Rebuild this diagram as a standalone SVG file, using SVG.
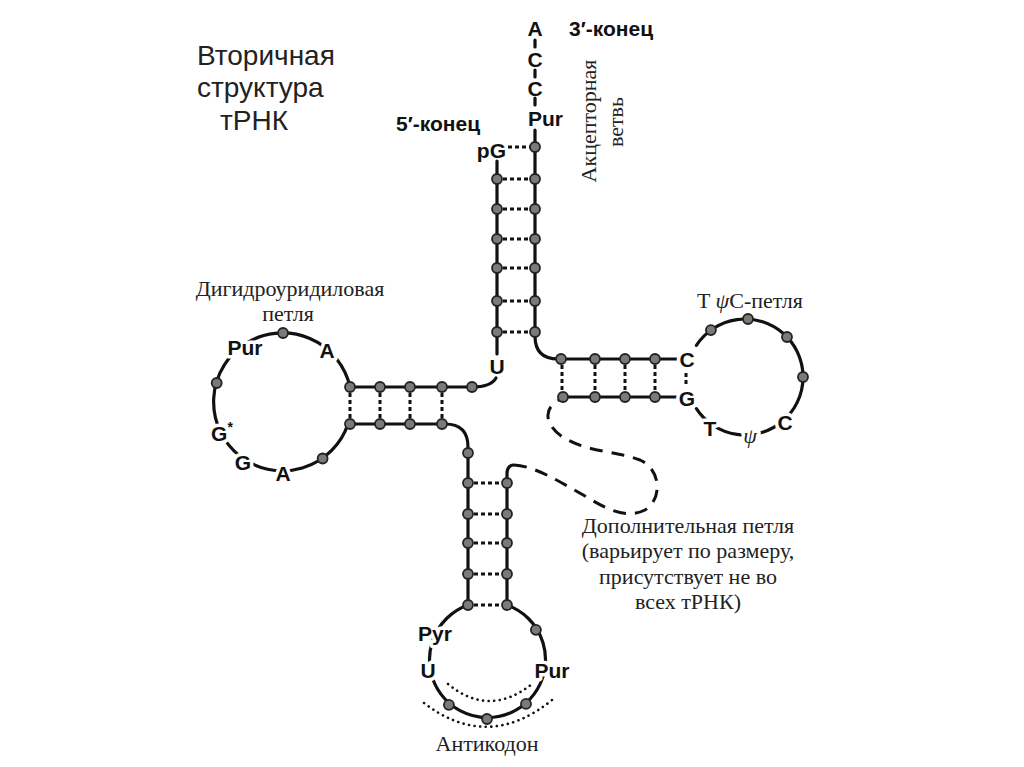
<svg xmlns="http://www.w3.org/2000/svg" width="1024" height="767" viewBox="0 0 1024 767">
<style>
.bb{fill:none;stroke:#111;stroke-width:3.2;stroke-linecap:round}
.pair{fill:none;stroke:#111;stroke-width:3;stroke-dasharray:4 3}
.dash{fill:none;stroke:#111;stroke-width:3;stroke-dasharray:13 9}
.dotarc{fill:none;stroke:#111;stroke-width:2.6;stroke-dasharray:0.1 5.5;stroke-linecap:round}
.nt{fill:#7a7a7a;stroke:#222;stroke-width:1.8}
.lab{font-family:"Liberation Sans",Arial,sans-serif;font-weight:bold;font-size:21px;fill:#111;text-anchor:middle;dominant-baseline:central}
.halo{stroke:#fff;stroke-width:7;paint-order:stroke;stroke-linejoin:round}
.ser{font-family:"Liberation Serif","Times New Roman",serif;font-size:22px;fill:#222}
.title{font-family:"Liberation Sans",Arial,sans-serif;font-size:28px;fill:#222}
</style>
<rect width="1024" height="767" fill="#fff"/>

<g id="title">
<text class="title" x="197" y="65">Вторичная</text>
<text class="title" x="197" y="97">структура</text>
<text class="title" x="220" y="130">тРНК</text>
</g>

<g id="connectors">
<path class="bb" d="M497,161 L497,354"/>
<path class="bb" d="M496,378 Q491,387 472,387 L350,387"/>
<path class="bb" d="M350,387 A69 69 0 1 0 348,424"/>
<path class="bb" d="M348,424 L445,424 Q468,424 468,447 L468,605"/>
<path class="bb" d="M507,605 A58 58 0 1 1 468,605"/>
<path class="bb" d="M507,605 L507,474 Q507,466 513,465"/>
<path class="dash" d="M514,465 C535,466 560,482 585,496 C605,508 625,520 645,510 C662,500 662,470 640,460 C620,452 590,452 568,440 C548,430 541,412 556,402 L562,398"/>
<path class="bb" d="M562,397 L677,397"/>
<path class="bb" d="M535,130 L535,336 Q535,359 558,359 L677,359"/>
<path class="bb" d="M696.4,345.4 A58 58 0 1 1 696.4,408.6"/>
<path class="bb" d="M535,40 L535,47 M535,70 L535,77 M535,98 L535,105"/>
<path class="pair" d="M508,147 H530 M503,179 H530 M503,209 H530 M503,239 H530 M503,268 H530 M503,301 H530 M503,332 H530"/>
<path class="pair" d="M350,393 V419 M380,393 V419 M410,393 V419 M442,393 V419"/>
<path class="pair" d="M474,483 H502 M474,514 H502 M474,543 H502 M474,574 H502 M474,605 H502"/>
<path class="pair" d="M562,365 V392 M595,365 V392 M625,365 V392 M655,365 V392 M686,373 V387"/>
<path class="dotarc" d="M448,684 Q489,718 532,684"/>
<path class="dotarc" d="M424,703 Q488,752 552,700"/>
</g>

<g id="acceptor-stem">
<circle class="nt" cx="535" cy="147" r="5"/>
<circle class="nt" cx="535" cy="179" r="5"/>
<circle class="nt" cx="535" cy="209" r="5"/>
<circle class="nt" cx="535" cy="239" r="5"/>
<circle class="nt" cx="535" cy="268" r="5"/>
<circle class="nt" cx="535" cy="301" r="5"/>
<circle class="nt" cx="535" cy="332" r="5"/>
<circle class="nt" cx="497" cy="179" r="5"/>
<circle class="nt" cx="497" cy="209" r="5"/>
<circle class="nt" cx="497" cy="239" r="5"/>
<circle class="nt" cx="497" cy="268" r="5"/>
<circle class="nt" cx="497" cy="301" r="5"/>
<circle class="nt" cx="497" cy="332" r="5"/>
<text class="lab" x="535" y="28">A</text>
<text class="lab" x="535" y="59">C</text>
<text class="lab" x="535" y="88">C</text>
<text class="lab" x="528" y="118" style="text-anchor:start">Pur</text>
<text class="lab" x="506" y="150" style="text-anchor:end">pG</text>
<text class="lab" x="497" y="366">U</text>
<text class="lab" x="569" y="28" style="text-anchor:start">3′-конец</text>
<text class="lab" x="396" y="123" style="text-anchor:start">5′-конец</text>
<text class="ser" transform="translate(596,121) rotate(-90)" text-anchor="middle">Акцепторная</text>
<text class="ser" transform="translate(623,122) rotate(-90)" text-anchor="middle">ветвь</text>
</g>

<g id="d-arm">
<circle class="nt" cx="350" cy="387" r="5"/>
<circle class="nt" cx="380" cy="387" r="5"/>
<circle class="nt" cx="410" cy="387" r="5"/>
<circle class="nt" cx="442" cy="387" r="5"/>
<circle class="nt" cx="472" cy="387" r="5"/>
<circle class="nt" cx="350" cy="424" r="5"/>
<circle class="nt" cx="380" cy="424" r="5"/>
<circle class="nt" cx="410" cy="424" r="5"/>
<circle class="nt" cx="442" cy="424" r="5"/>
<circle class="nt" cx="283" cy="333" r="5"/>
<circle class="nt" cx="216.7" cy="383" r="5"/>
<circle class="nt" cx="322.6" cy="458.5" r="5"/>
<text class="lab halo" x="245" y="347">Pur</text>
<text class="lab halo" x="327" y="350">A</text>
<text class="lab halo" x="222" y="433">G<tspan font-size="14" dy="-6">*</tspan></text>
<text class="lab halo" x="243" y="462">G</text>
<text class="lab halo" x="283" y="473">A</text>
<text class="ser" x="290" y="296" text-anchor="middle">Дигидроуридиловая</text>
<text class="ser" x="288" y="321" text-anchor="middle">петля</text>
</g>

<g id="tpsic-arm">
<circle class="nt" cx="561" cy="359" r="5"/>
<circle class="nt" cx="595" cy="359" r="5"/>
<circle class="nt" cx="625" cy="359" r="5"/>
<circle class="nt" cx="655" cy="359" r="5"/>
<circle class="nt" cx="563" cy="397" r="5"/>
<circle class="nt" cx="595" cy="397" r="5"/>
<circle class="nt" cx="625" cy="397" r="5"/>
<circle class="nt" cx="655" cy="397" r="5"/>
<circle class="nt" cx="710.9" cy="330.1" r="5"/>
<circle class="nt" cx="748" cy="319" r="5"/>
<circle class="nt" cx="787" cy="337" r="5"/>
<circle class="nt" cx="803" cy="377" r="5"/>
<text class="lab halo" x="687" y="359">C</text>
<text class="lab halo" x="687" y="398">G</text>
<text class="lab halo" x="710" y="428">T</text>
<text class="ser halo" x="750" y="435" font-size="24" font-style="italic" text-anchor="middle" dominant-baseline="central">ψ</text>
<text class="lab halo" x="785" y="422">C</text>
<text class="ser" x="697" y="308">T <tspan font-style="italic">ψ</tspan>C-петля</text>
</g>

<g id="anticodon-arm">
<circle class="nt" cx="468" cy="453" r="5"/>
<circle class="nt" cx="468" cy="483" r="5"/>
<circle class="nt" cx="468" cy="514" r="5"/>
<circle class="nt" cx="468" cy="543" r="5"/>
<circle class="nt" cx="468" cy="574" r="5"/>
<circle class="nt" cx="468" cy="605" r="5"/>
<circle class="nt" cx="507" cy="483" r="5"/>
<circle class="nt" cx="507" cy="514" r="5"/>
<circle class="nt" cx="507" cy="543" r="5"/>
<circle class="nt" cx="507" cy="574" r="5"/>
<circle class="nt" cx="507" cy="605" r="5"/>
<circle class="nt" cx="535.9" cy="629.8" r="5"/>
<circle class="nt" cx="526" cy="703.9" r="5"/>
<circle class="nt" cx="487" cy="719" r="5"/>
<circle class="nt" cx="448.9" cy="704.8" r="5"/>
<text class="lab halo" x="435" y="633">Pyr</text>
<text class="lab halo" x="428" y="670">U</text>
<text class="lab halo" x="552" y="670">Pur</text>
<text class="ser" x="487" y="751" text-anchor="middle">Антикодон</text>
</g>

<g id="extra-loop">
<text class="ser" x="688" y="533" text-anchor="middle">Дополнительная петля</text>
<text class="ser" x="688" y="558" text-anchor="middle">(варьирует по размеру,</text>
<text class="ser" x="688" y="584" text-anchor="middle">присутствует не во</text>
<text class="ser" x="688" y="609" text-anchor="middle">всех тРНК)</text>
</g>
</svg>
